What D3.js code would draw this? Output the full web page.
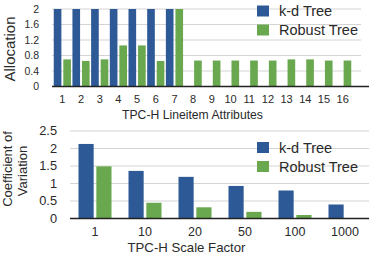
<!DOCTYPE html>
<html lang="en">
<head>
  <meta charset="UTF-8">
  <title>Allocation and coefficient of variation</title>
  <script src="https://d3js.org/d3.v7.min.js"></script>
  <style>
    body { margin: 0; background: #fff; }
    svg { display: block; font-family: "Liberation Sans", Arial, sans-serif; }
  </style>
</head>
<body>
  <svg id="chart" width="369" height="257"></svg>
  <script>
    // top panel: allocation per lineitem attribute
    const attributes = ['1','2','3','4','5','6','7','8','9','10','11','12','13','14','15','16'];
    const kdAlloc     = [2, 2, 2, 2, 2, 2, 2, 0, 0, 0, 0, 0, 0, 0, 0, 0];
    const robustAlloc = [0.7, 0.66, 0.7, 1.06, 1.06, 0.66, 2, 0.67, 0.67, 0.67, 0.67, 0.67, 0.7, 0.7, 0.67, 0.67];
    const allocTicks  = [0, 0.4, 0.8, 1.2, 1.6, 2];

    // bottom panel: coefficient of variation per scale factor
    const scaleFactors = ['1', '10', '20', '50', '100', '1000'];
    const kdCov        = [2.13, 1.36, 1.19, 0.93, 0.8, 0.4];
    const robustCov    = [1.49, 0.45, 0.32, 0.19, 0.1, 0];
    const covTicks     = [0, 0.5, 1, 1.5, 2, 2.5];

    const seriesNames = ['k-d Tree', 'Robust Tree'];
    const colors = ['#2d5a96', '#6aa84f'];

    const svg = d3.select('#chart');

    function panel(o) {
      const g = svg.append('g');
      const x = d3.scaleBand().domain(o.cats).range(o.xRange)
        .paddingInner(o.padIn).paddingOuter(o.padOut);
      const x1 = d3.scaleBand().domain([0, 1]).range([0, x.bandwidth()]).paddingInner(o.subPad);
      const y = d3.scaleLinear().domain([0, o.ticks[o.ticks.length - 1]]).range(o.yRange);

      // gridlines
      g.selectAll('line.grid').data(o.ticks.slice(1)).enter().append('line')
        .attr('x1', o.gridX[0]).attr('x2', o.gridX[1])
        .attr('y1', d => y(d)).attr('y2', d => y(d))
        .attr('stroke', '#d4d4d4').attr('stroke-width', 1);

      // bars
      const rows = o.cats.map((c, i) => ({ c, v: [o.a[i], o.b[i]] }));
      const grp = g.selectAll('g.grp').data(rows).enter().append('g')
        .attr('transform', d => `translate(${x(d.c)},0)`);
      grp.selectAll('rect').data(d => d.v.map((v, k) => ({ v, k }))).enter().append('rect')
        .attr('x', d => x1(d.k))
        .attr('width', x1.bandwidth())
        .attr('y', d => y(d.v))
        .attr('height', d => y(0) - y(d.v))
        .attr('fill', d => colors[d.k]);

      // baseline
      g.append('line')
        .attr('x1', o.gridX[0]).attr('x2', 369)
        .attr('y1', y(0)).attr('y2', y(0))
        .attr('stroke', '#222').attr('stroke-width', 1.5);

      // y tick labels
      g.selectAll('text.yt').data(o.ticks).enter().append('text')
        .attr('x', o.yLabelX).attr('y', d => y(d))
        .attr('dy', '0.35em')
        .attr('text-anchor', 'end')
        .attr('font-size', o.tickSize)
        .attr('fill', '#2a2a2a')
        .text(d => d);

      // x tick labels
      g.selectAll('text.xt').data(o.cats).enter().append('text')
        .attr('x', d => x(d) + x.bandwidth() / 2)
        .attr('y', o.xLabelY)
        .attr('text-anchor', 'middle')
        .attr('font-size', o.xTickSize)
        .attr('fill', '#2a2a2a')
        .text(d => d);

      // x title
      g.append('text')
        .attr('x', o.xTitle[0]).attr('y', o.xTitle[1])
        .attr('text-anchor', 'middle')
        .attr('font-size', o.titleSize)
        .attr('fill', '#2a2a2a')
        .text(o.xTitleText);

      // y title
      o.yTitle.forEach(t => {
        g.append('text')
          .attr('transform', `translate(${t.x},${t.y}) rotate(-90)`)
          .attr('text-anchor', 'middle')
          .attr('font-size', o.yTitleSize)
          .attr('fill', '#2a2a2a')
          .text(t.text);
      });

      // legend
      seriesNames.forEach((name, k) => {
        const ly = o.legendY + k * 19;
        g.append('rect')
          .attr('x', 257).attr('y', ly)
          .attr('width', 12).attr('height', 11)
          .attr('fill', colors[k]);
        g.append('text')
          .attr('x', 279).attr('y', ly + 10.5)
          .attr('font-size', 14.5)
          .attr('fill', '#2a2a2a')
          .text(name);
      });
    }

    panel({
      cats: attributes, a: kdAlloc, b: robustAlloc, ticks: allocTicks,
      xRange: [53, 352], padIn: 0.08, padOut: 0.04, subPad: 0.2,
      yRange: [86.5, 9], gridX: [52, 361],
      yLabelX: 39, xLabelY: 102.5, tickSize: 10.5, xTickSize: 11,
      xTitle: [192.5, 119], xTitleText: 'TPC-H Lineitem Attributes', titleSize: 12.2,
      yTitle: [{ x: 15, y: 49, text: 'Allocation' }], yTitleSize: 15,
      legendY: 5.5
    });

    panel({
      cats: scaleFactors, a: kdCov, b: robustCov, ticks: covTicks,
      xRange: [70, 370], padIn: 0.34, padOut: 0.17, subPad: 0.15,
      yRange: [218.5, 131], gridX: [70, 369],
      yLabelX: 57, xLabelY: 236, tickSize: 12.8, xTickSize: 12.5,
      xTitle: [186.5, 252], xTitleText: 'TPC-H Scale Factor', titleSize: 13.2,
      yTitle: [{ x: 11.5, y: 169, text: 'Coefficient of' }, { x: 26.5, y: 171, text: 'Variation' }],
      yTitleSize: 13,
      legendY: 142
    });
  </script>
</body>
</html>
